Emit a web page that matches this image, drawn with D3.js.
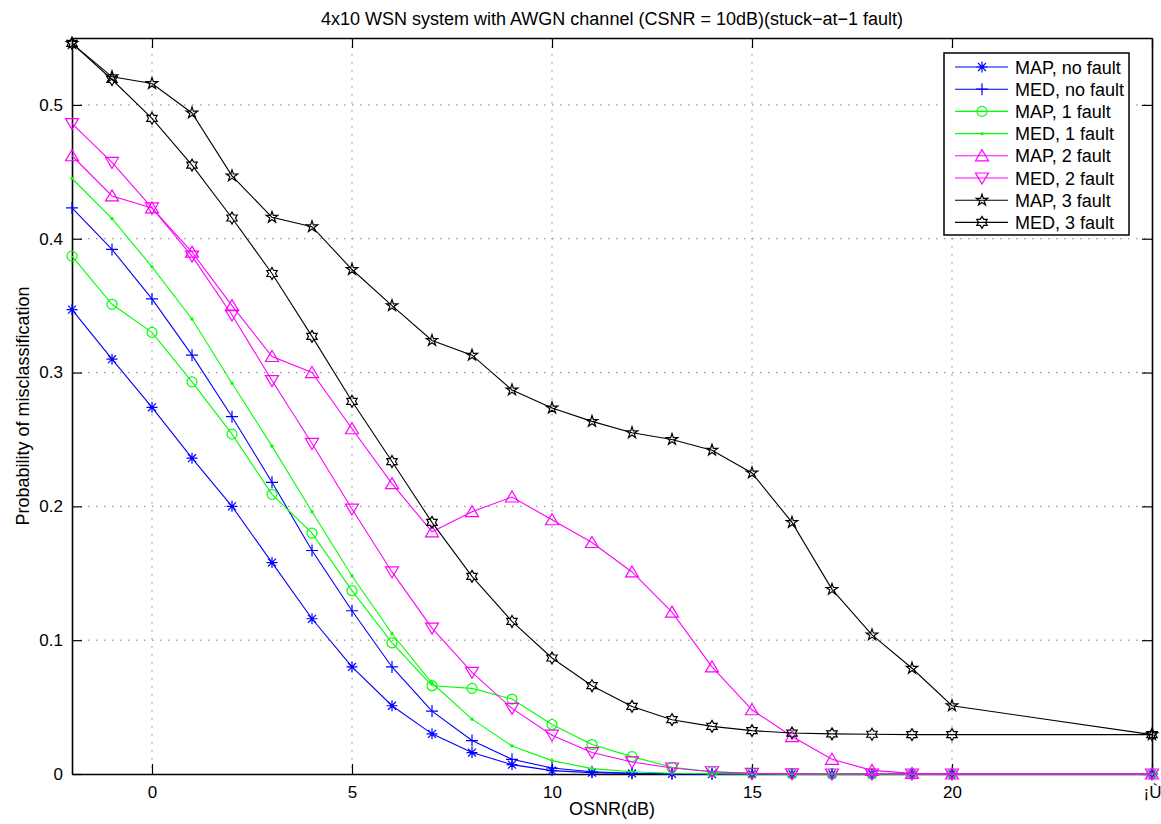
<!DOCTYPE html>
<html>
<head>
<meta charset="utf-8">
<script src="https://cdn.jsdelivr.net/npm/d3@7"></script>
<style>
    body { margin: 0; background: #fff; }
    text { font-family: "Liberation Sans", Arial, Helvetica, sans-serif; }
</style>
</head>
<body>
<div id="chart"></div>
<script>
// x positions (OSNR in dB); the last point sits on the "¡Ù" tick
const osnr = [-2, -1, 0, 1, 2, 3, 4, 5, 6, 7, 8, 9, 10, 11, 12, 13, 14, 15, 16, 17, 18, 19, 20, 25];

const mapNoFault  = [0.347, 0.310, 0.274, 0.236, 0.200, 0.158, 0.116, 0.080, 0.051, 0.030, 0.016, 0.007, 0.0025, 0.001, 0.0004, 0.0001, 0, 0, 0, 0, 0, 0, 0, 0];
const medNoFault  = [0.423, 0.392, 0.355, 0.313, 0.267, 0.218, 0.167, 0.122, 0.080, 0.047, 0.025, 0.011, 0.0045, 0.0017, 0.0006, 0.0002, 0.0001, 0, 0, 0, 0, 0, 0, 0];
const mapOneFault = [0.387, 0.351, 0.330, 0.293, 0.254, 0.209, 0.180, 0.137, 0.098, 0.066, 0.064, 0.056, 0.037, 0.022, 0.013, 0.005, 0.0017, 0.0005, 0.0001, 0, 0, 0, 0, 0];
const medOneFault = [0.445, 0.415, 0.379, 0.340, 0.292, 0.245, 0.196, 0.148, 0.105, 0.068, 0.041, 0.021, 0.010, 0.004, 0.0017, 0.0006, 0.0002, 0, 0, 0, 0, 0, 0, 0];
const mapTwoFault = [0.462, 0.432, 0.423, 0.390, 0.350, 0.312, 0.300, 0.258, 0.217, 0.181, 0.196, 0.207, 0.190, 0.173, 0.151, 0.121, 0.080, 0.048, 0.028, 0.011, 0.0027, 0.0005, 0, 0];
const medTwoFault = [0.486, 0.457, 0.423, 0.387, 0.343, 0.294, 0.247, 0.198, 0.151, 0.109, 0.076, 0.049, 0.029, 0.016, 0.009, 0.0045, 0.0017, 0.0005, 0.0001, 0, 0, 0, 0, 0];
const mapThreeFault = [0.546, 0.521, 0.516, 0.494, 0.447, 0.416, 0.409, 0.377, 0.350, 0.324, 0.313, 0.287, 0.2735, 0.2635, 0.255, 0.250, 0.242, 0.225, 0.188, 0.138, 0.104, 0.079, 0.051, 0.0294];
const medThreeFault = [0.546, 0.519, 0.490, 0.455, 0.4155, 0.374, 0.327, 0.2785, 0.2335, 0.188, 0.1477, 0.114, 0.0867, 0.066, 0.0505, 0.0406, 0.0356, 0.0324, 0.0306, 0.030, 0.0297, 0.0294, 0.0294, 0.0294];

const seriesNames = ["MAP, no fault", "MED, no fault", "MAP, 1 fault", "MED, 1 fault",
                     "MAP, 2 fault", "MED, 2 fault", "MAP, 3 fault", "MED, 3 fault"];
const seriesValues = [mapNoFault, medNoFault, mapOneFault, medOneFault,
                      mapTwoFault, medTwoFault, mapThreeFault, medThreeFault];
const seriesColors = ["#0000ff", "#0000ff", "#00ff00", "#00ff00", "#ff00ff", "#ff00ff", "#000000", "#000000"];
const seriesMarkers = ["asterisk", "plus", "circle", "point", "triangleUp", "triangleDown", "pentagram", "hexagram"];

const xTicks = [0, 5, 10, 15, 20, 25];
const xTickLabels = ["0", "5", "10", "15", "20", "¡Ù"];
const yTicks = [0, 0.1, 0.2, 0.3, 0.4, 0.5];

const titleText = "4x10 WSN system with AWGN channel (CSNR = 10dB)(stuck\u2212at\u22121 fault)";

// marker paths, centred on 0,0
function markerPath(type) {
    let p = "";
    if (type === "asterisk") {
        let r = 5.5, d = r * 0.72;
        p = `M${-r},0L${r},0M0,${-r}L0,${r}M${-d},${-d}L${d},${d}M${-d},${d}L${d},${-d}`;
    } else if (type === "plus") {
        let r = 6;
        p = `M${-r},0L${r},0M0,${-r}L0,${r}`;
    } else if (type === "circle") {
        let r = 5;
        p = `M${r},0A${r},${r},0,1,1,${-r},0A${r},${r},0,1,1,${r},0Z`;
    } else if (type === "point") {
        let r = 1.7;
        p = `M${r},0A${r},${r},0,1,1,${-r},0A${r},${r},0,1,1,${r},0Z`;
    } else if (type === "triangleUp") {
        p = "M0,-6L6.5,5L-6.5,5Z";
    } else if (type === "triangleDown") {
        p = "M0,6L6.5,-5L-6.5,-5Z";
    } else if (type === "pentagram" || type === "hexagram") {
        let n = type === "pentagram" ? 5 : 6;
        let R = 6, ri = type === "pentagram" ? R * 0.382 : R * 0.577;
        let pts = [];
        for (let i = 0; i < n * 2; i++) {
            let a = -Math.PI / 2 + i * Math.PI / n;
            let rr = i % 2 === 0 ? R : ri;
            pts.push([rr * Math.cos(a), rr * Math.sin(a)]);
        }
        p = "M" + pts.map(q => q[0].toFixed(2) + "," + q[1].toFixed(2)).join("L") + "Z";
    }
    return p;
}

let margin = {top: 38, right: 9, bottom: 50, left: 72};
let width = 1161 - margin.left - margin.right;
let height = 824 - margin.top - margin.bottom;

let svgRoot = d3.select("#chart").append("svg")
    .attr("width", 1161)
    .attr("height", 824);

let svg = svgRoot.append("g")
    .attr("transform", `translate(${margin.left}, ${margin.top})`);

let x = d3.scaleLinear().domain([-2, 25]).range([0, width]);
let y = d3.scaleLinear().domain([0, 0.55]).range([height, 0]);

// dotted grid
svg.append("g").selectAll("line.gx")
    .data(xTicks.filter(d => d > -2 && d < 25))
    .enter().append("line")
    .attr("x1", d => x(d)).attr("x2", d => x(d))
    .attr("y1", 0).attr("y2", height)
    .attr("stroke", "#808080").attr("stroke-width", 1)
    .attr("stroke-dasharray", "1.5,6.5");

svg.append("g").selectAll("line.gy")
    .data(yTicks.filter(d => d > 0))
    .enter().append("line")
    .attr("x1", 0).attr("x2", width)
    .attr("y1", d => y(d)).attr("y2", d => y(d))
    .attr("stroke", "#808080").attr("stroke-width", 1)
    .attr("stroke-dasharray", "1.5,6.5");

// axes (ticks pointing inwards, box on)
let xAxis = d3.axisBottom(x).tickValues(xTicks)
    .tickFormat((d, i) => xTickLabels[i])
    .tickSizeInner(-10).tickSizeOuter(0).tickPadding(12);
let yAxis = d3.axisLeft(y).tickValues(yTicks)
    .tickFormat(d => d === 0 ? "0" : d.toFixed(1))
    .tickSizeInner(-10).tickSizeOuter(0).tickPadding(9);

let gx = svg.append("g").attr("transform", `translate(0, ${height})`).call(xAxis);
let gy = svg.append("g").call(yAxis);
let gxTop = svg.append("g").call(d3.axisTop(x).tickValues(xTicks).tickFormat("").tickSizeInner(-10).tickSizeOuter(0));
let gyRight = svg.append("g").attr("transform", `translate(${width}, 0)`)
    .call(d3.axisRight(y).tickValues(yTicks).tickFormat("").tickSizeInner(-10).tickSizeOuter(0));

[gx, gy, gxTop, gyRight].forEach(g => {
    g.selectAll(".domain").attr("stroke", "#000").attr("stroke-width", 1.6);
    g.selectAll(".tick line").attr("stroke", "#000").attr("stroke-width", 1.2);
    g.selectAll(".tick text").attr("fill", "#000").attr("font-size", "17px")
        .attr("font-family", "'Liberation Sans', Arial, sans-serif");
});

// series lines and markers
let line = d3.line().x(d => x(d.x)).y(d => y(d.y));

seriesValues.forEach((vals, i) => {
    let pts = vals.map((v, j) => ({x: osnr[j], y: v}));
    let g = svg.append("g");
    g.append("path")
        .datum(pts)
        .attr("d", line)
        .attr("fill", "none")
        .attr("stroke", seriesColors[i])
        .attr("stroke-width", 1.1);
    let filled = seriesMarkers[i] === "point";
    g.selectAll("path.m")
        .data(pts)
        .enter().append("path")
        .attr("transform", d => `translate(${x(d.x)}, ${y(d.y)})`)
        .attr("d", markerPath(seriesMarkers[i]))
        .attr("fill", filled ? seriesColors[i] : "none")
        .attr("stroke", seriesColors[i])
        .attr("stroke-width", filled ? 0 : 1.2);
});

// title and axis labels
svgRoot.append("text")
    .attr("x", margin.left + width / 2)
    .attr("y", 25)
    .attr("text-anchor", "middle")
    .attr("font-size", "18px")
    .text(titleText);

svgRoot.append("text")
    .attr("x", margin.left + width / 2)
    .attr("y", 815)
    .attr("text-anchor", "middle")
    .attr("font-size", "18px")
    .text("OSNR(dB)");

svgRoot.append("text")
    .attr("transform", `translate(29, ${margin.top + height / 2}) rotate(-90)`)
    .attr("text-anchor", "middle")
    .attr("font-size", "18px")
    .text("Probability of misclassification");

// legend
let legend = svgRoot.append("g").attr("transform", "translate(944, 53)");
legend.append("rect")
    .attr("width", 185).attr("height", 182)
    .attr("fill", "#fff").attr("stroke", "#000").attr("stroke-width", 1.5);

seriesNames.forEach((name, i) => {
    let ly = 14 + i * 22.2;
    legend.append("line")
        .attr("x1", 11).attr("x2", 64)
        .attr("y1", ly).attr("y2", ly)
        .attr("stroke", seriesColors[i]).attr("stroke-width", 1.1);
    let filled = seriesMarkers[i] === "point";
    legend.append("path")
        .attr("transform", `translate(38, ${ly})`)
        .attr("d", markerPath(seriesMarkers[i]))
        .attr("fill", filled ? seriesColors[i] : "none")
        .attr("stroke", seriesColors[i])
        .attr("stroke-width", filled ? 0 : 1.2);
    legend.append("text")
        .attr("x", 71).attr("y", ly + 6.5)
        .attr("font-size", "18px")
        .text(name);
});
</script>
</body>
</html>
